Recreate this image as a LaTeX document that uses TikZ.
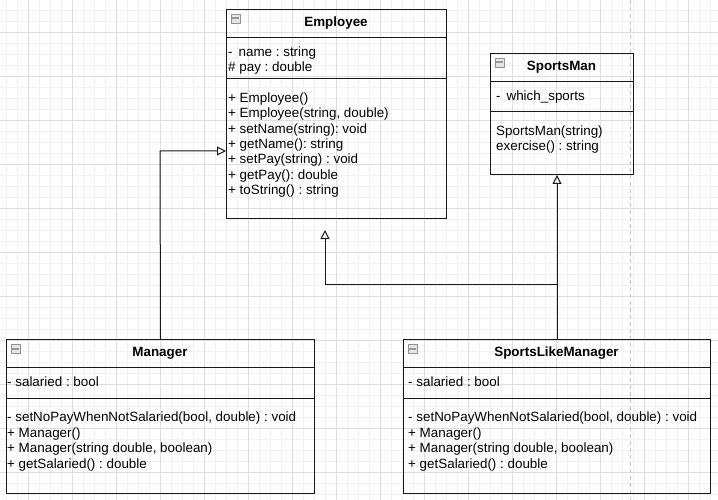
\documentclass[tikz,border=0pt]{standalone}
\usepackage{fontspec}
\setmainfont{Liberation Sans}
\usetikzlibrary{arrows.meta}
\frenchspacing
\tikzset{
  classbox/.style={draw=black!90, line width=1pt, anchor=north west, inner sep=0pt},
  sepline/.style={draw=black!90, line width=1pt},
  txt/.style={anchor=west, inner sep=0pt, font=\fontsize{13.4pt}{15pt}\selectfont, text height=9.5pt, text depth=2.5pt},
  title/.style={inner sep=0pt, font=\fontsize{13.4pt}{15pt}\selectfont\bfseries, text height=9.5pt, text depth=2.5pt},
  inh/.style={draw=black!90, line width=1pt, -{Triangle[open, width=9pt, length=9pt]}},
  minorgrid/.style={draw=black!5, line width=0.8pt},
  majorgrid/.style={draw=black!13, line width=0.8pt},
}
\newcommand{\minusicon}[2]{%
  \draw[draw=gray!85, fill=gray!20, line width=0.7pt] (#1+5,#2+5) rectangle ++(9,9);
  \fill[gray!80] (#1+6,#2+8.5) rectangle ++(7,2);
}
\begin{document}
\begin{tikzpicture}[x=1pt,y=-1pt]
\useasboundingbox (0,0) rectangle (718,500);
% grid
\foreach \gx in {6,17,...,717} {\draw[minorgrid] (\gx,0) -- (\gx,500);}
\foreach \gy in {10,21,...,499} {\draw[minorgrid] (0,\gy) -- (718,\gy);}
\foreach \gx in {28,72,...,717} {\draw[majorgrid] (\gx,0) -- (\gx,500);}
\foreach \gy in {32,76,...,499} {\draw[majorgrid] (0,\gy) -- (718,\gy);}
\draw[draw=black!22, line width=1pt, dash pattern=on 4pt off 3pt] (630,0) -- (630,500);

% Employee
\node[classbox, minimum width=220pt, minimum height=209pt] (emp) at (226,9) {};
\draw[sepline] (226,38) -- (446,38);
\draw[sepline] (226,79) -- (446,79);
\minusicon{226}{9}
\node[title] (empt) at (336,23.5) {Employee};
\node[txt] (e1) at (228,53) {-\,\ name : string};
\node[txt] (e2) at (228,68) {\# pay : double};
\node[txt] (e3) at (228,99) {+ Employee()};
\node[txt] (e4) at (228,114.3) {+ Employee(string, double)};
\node[txt] (e5) at (228,129.6) {+ setName(string): void};
\node[txt] (e6) at (228,144.9) {+ getName(): string};
\node[txt] (e7) at (228,160.2) {+ setPay(string) : void};
\node[txt] (e8) at (228,175.5) {+ getPay(): double};
\node[txt] (e9) at (228,190.8) {+ toString() : string};

% SportsMan
\node[classbox, minimum width=143pt, minimum height=121pt] (sm) at (490,53) {};
\draw[sepline] (490,82) -- (633,82);
\draw[sepline] (490,112) -- (633,112);
\minusicon{490}{53}
\node[title] (smt) at (561.5,67.5) {SportsMan};
\node[txt] (s1) at (496,97) {-\,\ which\_sports};
\node[txt] (s2) at (496,132) {SportsMan(string)};
\node[txt] (s3) at (496,147.5) {exercise() : string};

% Manager
\node[classbox, minimum width=308pt, minimum height=154pt] (mgr) at (6,339) {};
\draw[sepline] (6,367) -- (314,367);
\draw[sepline] (6,398) -- (314,398);
\minusicon{6}{339}
\node[title] (mgrt) at (160,353) {Manager};
\node[txt] (m1) at (7,383) {- salaried : bool};
\node[txt] (m2) at (7,418) {- setNoPayWhenNotSalaried(bool, double) : void};
\node[txt] (m3) at (7,433.5) {+ Manager()};
\node[txt] (m4) at (7,449) {+ Manager(string double, boolean)};
\node[txt] (m5) at (7,464.5) {+ getSalaried() : double};

% SportsLikeManager
\node[classbox, minimum width=307pt, minimum height=154pt] (slm) at (403,339) {};
\draw[sepline] (403,367) -- (710,367);
\draw[sepline] (403,398) -- (710,398);
\minusicon{403}{339}
\node[title] (slmt) at (556.5,353) {SportsLikeManager};
\node[txt] (l1) at (408,383) {- salaried : bool};
\node[txt] (l2) at (408,418) {- setNoPayWhenNotSalaried(bool, double) : void};
\node[txt] (l3) at (408,433.5) {+ Manager()};
\node[txt] (l4) at (408,449) {+ Manager(string double, boolean)};
\node[txt] (l5) at (408,464.5) {+ getSalaried() : double};

% connectors
\coordinate (bendM) at (160,151);
\coordinate (bendS) at (325,284);
\coordinate (empTip) at (325,230);
\draw[inh] (mgr.north) -- (bendM) -- (bendM -| emp.west);
\draw[inh] (slm.north) -- (slm.north |- sm.south);
\draw[inh] (slm.north) -- (slm.north |- bendS) -| (empTip);
\end{tikzpicture}
\end{document}
